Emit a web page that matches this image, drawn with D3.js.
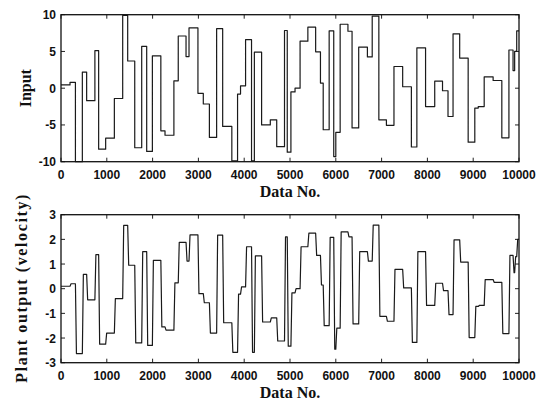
<!DOCTYPE html>
<html><head><meta charset="utf-8">
<script src="https://cdn.jsdelivr.net/npm/d3@7"></script>
<style>body{margin:0;background:#fff}svg{display:block}</style>
</head><body><svg id="c" width="546" height="403"></svg>
<script>
// ---- data ----
const changeTimes = [0,197,315,466,560,740,822,975,1165,1347,1456,1610,1762,1871,1995,2180,2271,2465,2560,2730,2795,2990,3107,3240,3398,3530,3730,3855,3920,4030,4160,4222,4380,4570,4710,4880,4940,5020,5110,5220,5390,5560,5665,5725,5855,5955,6000,6095,6265,6355,6500,6690,6795,6940,7105,7270,7460,7650,7770,7960,8160,8330,8450,8560,8705,8890,9035,9110,9240,9435,9625,9780,9870,9905,9950];
const inputLevels = [0.45,0.8,-10,2.2,-1.7,5.1,-8.3,-6.8,-1.4,9.9,3.7,-8.1,5.7,-8.6,4.4,-5.8,-6.4,1.0,7.1,4.3,8.2,-0.7,-2.15,-6.7,8.1,-5.2,-9.9,-0.8,0.33,6.6,-9.9,4.9,-5.0,-4.3,-7.95,7.85,-8.7,-0.5,0.0,6.4,8.3,4.95,0.7,-5.65,7.8,-9.3,-6.0,8.7,7.75,-5.4,5.6,4.25,9.8,-4.3,-5.05,2.95,0.2,-8.0,5.5,-2.5,0.95,-0.35,-3.85,7.4,4.1,-7.35,-2.7,-2.5,1.55,1.05,-6.75,5.2,2.4,5.0,7.8];
const outputLevels = [0.1,0.2,-2.63,0.58,-0.45,1.38,-2.25,-1.8,-0.4,2.57,0.95,-2.2,1.5,-2.3,1.15,-1.55,-1.68,0.24,1.88,1.12,2.18,-0.2,-0.57,-1.8,2.17,-1.38,-2.58,-0.22,0.07,1.7,-2.58,1.33,-1.35,-1.18,-2.12,2.1,-2.33,-0.17,0.0,1.7,2.25,1.35,0.15,-1.5,2.08,-2.45,-1.6,2.3,2.1,-1.43,1.5,1.12,2.58,-1.12,-1.32,0.78,0.03,-2.18,1.5,-0.68,0.22,-0.08,-1.05,1.98,1.08,-1.98,-0.72,-0.68,0.37,0.26,-1.82,1.35,0.65,1.3,2.0];
const xDomain = [0, 10000];
const xTicks = [0,1000,2000,3000,4000,5000,6000,7000,8000,9000,10000];
const inputDomain = [-10, 10];
const inputTicks = [-10,-5,0,5,10];
const outputDomain = [-3, 3];
const outputTicks = [-3,-2,-1,0,1,2,3];
const xLabel = "Data No.";
const inputLabel = "Input";
const outputLabel = "Plant output (velocity)";

// ---- drawing ----
const svg = d3.select("#c");
const L = 61, R = 519;
const responseSpan = 22;

function panel(top, bottom, domain, ticks, yLabel, pts, curve, labelX, labelLen, tickBase, titleBase) {
  const x = d3.scaleLinear().domain(xDomain).range([L, R]);
  const y = d3.scaleLinear().domain(domain).range([bottom, top]);
  const g = svg.append("g");
  const tl = 4;
  const tk = g.append("g").attr("stroke", "#222").attr("stroke-width", 1);
  xTicks.forEach(t => {
    tk.append("line").attr("x1", x(t)).attr("x2", x(t)).attr("y1", bottom).attr("y2", bottom - tl);
    tk.append("line").attr("x1", x(t)).attr("x2", x(t)).attr("y1", top).attr("y2", top + tl);
  });
  ticks.forEach(t => {
    tk.append("line").attr("x1", L).attr("x2", L + tl).attr("y1", y(t)).attr("y2", y(t));
    tk.append("line").attr("x1", R).attr("x2", R - tl).attr("y1", y(t)).attr("y2", y(t));
  });
  g.append("path").datum(pts)
    .attr("fill", "none").attr("stroke", "#1a1a1a").attr("stroke-width", 1.2)
    .attr("stroke-linejoin", "round")
    .attr("d", d3.line().x(d => x(d[0])).y(d => y(d[1])).curve(curve));
  g.append("rect").attr("x", L).attr("y", top).attr("width", R - L).attr("height", bottom - top)
    .attr("fill", "none").attr("stroke", "#111").attr("stroke-width", 1.3);
  const font = "'Liberation Sans', Arial, sans-serif";
  xTicks.forEach(t => {
    g.append("text").attr("x", x(t)).attr("y", tickBase).attr("text-anchor", "middle")
      .attr("font-family", font).attr("font-size", 12).attr("font-weight", "bold").attr("fill", "#111")
      .text(t);
  });
  ticks.forEach(t => {
    g.append("text").attr("x", L - 5).attr("y", y(t) + 4.5).attr("text-anchor", "end")
      .attr("font-family", font).attr("font-size", 12).attr("font-weight", "bold").attr("fill", "#111")
      .text(t);
  });
  const serif = "'Liberation Serif', 'Times New Roman', serif";
  g.append("text").attr("x", (L + R) / 2).attr("y", titleBase).attr("text-anchor", "middle")
    .attr("font-family", serif).attr("font-size", 16).attr("font-weight", "bold").attr("fill", "#111")
    .text(xLabel);
  const yl = g.append("text").attr("transform", `translate(${labelX},${(top + bottom) / 2}) rotate(-90)`)
    .attr("text-anchor", "middle")
    .attr("font-family", serif).attr("font-size", 16).attr("font-weight", "bold").attr("fill", "#111")
    .text(yLabel);
  if (labelLen) yl.attr("textLength", labelLen).attr("lengthAdjust", "spacing");
}

const inputPts = changeTimes.map((t, i) => [t, inputLevels[i]]);
inputPts.push([xDomain[1], inputLevels[inputLevels.length - 1]]);

const outputPts = [[changeTimes[0], outputLevels[0]]];
for (let i = 1; i < changeTimes.length; i++) {
  outputPts.push([changeTimes[i], outputLevels[i - 1]]);
  outputPts.push([changeTimes[i] + responseSpan, outputLevels[i]]);
}
outputPts.push([xDomain[1], outputLevels[outputLevels.length - 1]]);

panel(14.7, 161.7, inputDomain, inputTicks, inputLabel, inputPts, d3.curveStepAfter, 31, null, 179, 197);
panel(214.7, 362.7, outputDomain, outputTicks, outputLabel, outputPts, d3.curveLinear, 27, 188, 380, 398);
</script>
</body></html>
